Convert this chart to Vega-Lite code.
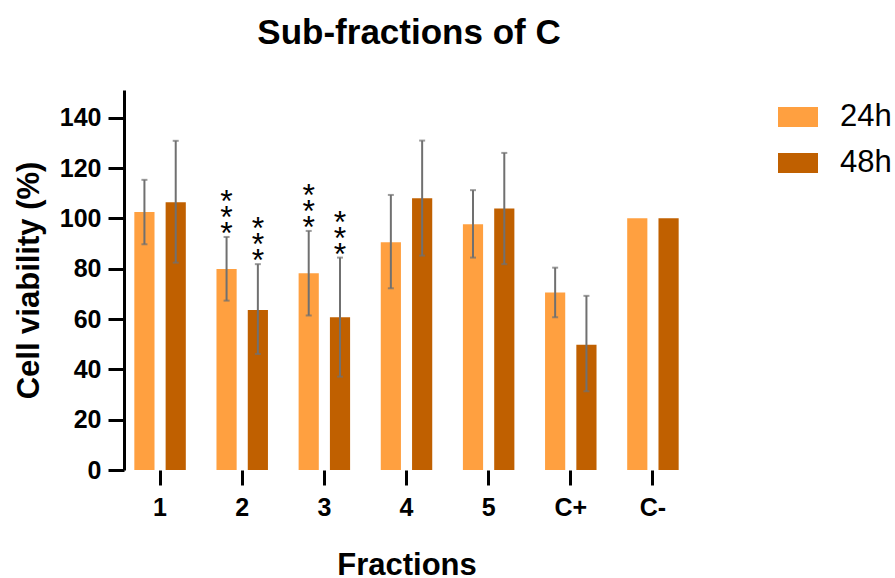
{
  "$schema": "https://vega.github.io/schema/vega-lite/v6.json",
  "width": 570,
  "height": 380,
  "autosize": {"type": "none"},
  "padding": {"left": 124, "top": 90, "right": 201, "bottom": 108},
  "background": "white",
  "title": {
    "text": "Sub-fractions of C",
    "fontSize": 35,
    "fontWeight": "bold",
    "font": "Liberation Sans",
    "color": "black",
    "anchor": "middle",
    "frame": "group",
    "baseline": "alphabetic",
    "offset": 11
  },
  "data": {
    "values": [
      {"fraction": "1", "time": "24h", "value": 102.5, "lo": 89.7, "hi": 115.3, "sig": ""},
      {"fraction": "1", "time": "48h", "value": 106.4, "lo": 82.4, "hi": 130.8, "sig": ""},
      {"fraction": "2", "time": "24h", "value": 79.9, "lo": 67.3, "hi": 92.6, "sig": "*\n*\n*"},
      {"fraction": "2", "time": "48h", "value": 63.6, "lo": 46.1, "hi": 81.8, "sig": "*\n*\n*"},
      {"fraction": "3", "time": "24h", "value": 78.2, "lo": 61.4, "hi": 95.0, "sig": "*\n*\n*"},
      {"fraction": "3", "time": "48h", "value": 60.7, "lo": 37.1, "hi": 84.4, "sig": "*\n*\n*"},
      {"fraction": "4", "time": "24h", "value": 90.5, "lo": 72.2, "hi": 109.3, "sig": ""},
      {"fraction": "4", "time": "48h", "value": 108.0, "lo": 85.2, "hi": 130.9, "sig": ""},
      {"fraction": "5", "time": "24h", "value": 97.7, "lo": 84.4, "hi": 111.2, "sig": ""},
      {"fraction": "5", "time": "48h", "value": 103.9, "lo": 81.8, "hi": 126.0, "sig": ""},
      {"fraction": "C+", "time": "24h", "value": 70.5, "lo": 60.7, "hi": 80.4, "sig": ""},
      {"fraction": "C+", "time": "48h", "value": 49.8, "lo": 31.3, "hi": 69.2, "sig": ""},
      {"fraction": "C-", "time": "24h", "value": 100, "lo": null, "hi": null, "sig": ""},
      {"fraction": "C-", "time": "48h", "value": 100, "lo": null, "hi": null, "sig": ""}
    ]
  },
  "encoding": {
    "x": {
      "field": "fraction",
      "type": "nominal",
      "sort": ["1", "2", "3", "4", "5", "C+", "C-"],
      "scale": {"paddingInner": 0, "paddingOuter": 0, "range": [-5, 570]},
      "axis": {
        "title": "Fractions",
        "domain": false,
        "labelAngle": 0,
        "labelFontSize": 25,
        "labelFontWeight": "bold",
        "labelPadding": 10,
        "titleFontSize": 31,
        "titlePadding": 30,
        "tickSize": 15
      }
    },
    "xOffset": {
      "field": "time",
      "type": "nominal",
      "scale": {"paddingInner": 0.355, "paddingOuter": 0.49}
    }
  },
  "layer": [
    {
      "mark": {"type": "bar"},
      "encoding": {
        "y": {
          "field": "value",
          "type": "quantitative",
          "scale": {"domain": [0, 151], "nice": false},
          "axis": {
            "title": "Cell viability (%)",
            "values": [0, 20, 40, 60, 80, 100, 120, 140],
            "labelFontSize": 25,
            "labelFontWeight": "bold",
            "labelPadding": 7,
            "titleFontSize": 31,
            "titlePadding": 14,
            "tickSize": 16,
            "grid": false
          }
        },
        "color": {
          "field": "time",
          "type": "nominal",
          "scale": {"domain": ["24h", "48h"], "range": ["#FFA040", "#C06000"]},
          "legend": {
            "title": null,
            "orient": "none",
            "legendX": 654,
            "legendY": 7,
            "symbolType": "M-1,-0.5H1V0.5H-1Z",
            "symbolSize": 1600,
            "symbolStrokeWidth": 0,
            "labelFontSize": 31,
            "labelFont": "Liberation Sans",
            "labelColor": "black",
            "labelOffset": 22,
            "rowPadding": 11,
            "padding": 0
          }
        }
      }
    },
    {
      "mark": {"type": "rule", "color": "black", "strokeWidth": 3},
      "encoding": {
        "y": {"datum": 0, "type": "quantitative"}
      }
    },
    {
      "mark": {"type": "rule", "color": "#707070", "strokeWidth": 2},
      "encoding": {
        "y": {"field": "lo", "type": "quantitative"},
        "y2": {"field": "hi"}
      }
    },
    {
      "mark": {"type": "tick", "color": "#707070", "size": 6, "thickness": 2},
      "encoding": {
        "y": {"field": "lo", "type": "quantitative"}
      }
    },
    {
      "mark": {"type": "tick", "color": "#707070", "size": 6, "thickness": 2},
      "encoding": {
        "y": {"field": "hi", "type": "quantitative"}
      }
    },
    {
      "mark": {"type": "text", "fontSize": 32, "font": "Liberation Sans", "color": "black", "baseline": "bottom", "lineBreak": "\n", "lineHeight": 16, "dy": -18},
      "encoding": {
        "y": {"field": "hi", "type": "quantitative"},
        "text": {"field": "sig"}
      }
    }
  ],
  "config": {
    "view": {"stroke": null},
    "font": "Liberation Sans",
    "axis": {
      "domainColor": "black",
      "domainWidth": 3,
      "tickColor": "black",
      "tickWidth": 3,
      "labelColor": "black",
      "titleColor": "black",
      "labelFont": "Liberation Sans",
      "titleFont": "Liberation Sans",
      "titleFontWeight": "bold"
    }
  }
}
